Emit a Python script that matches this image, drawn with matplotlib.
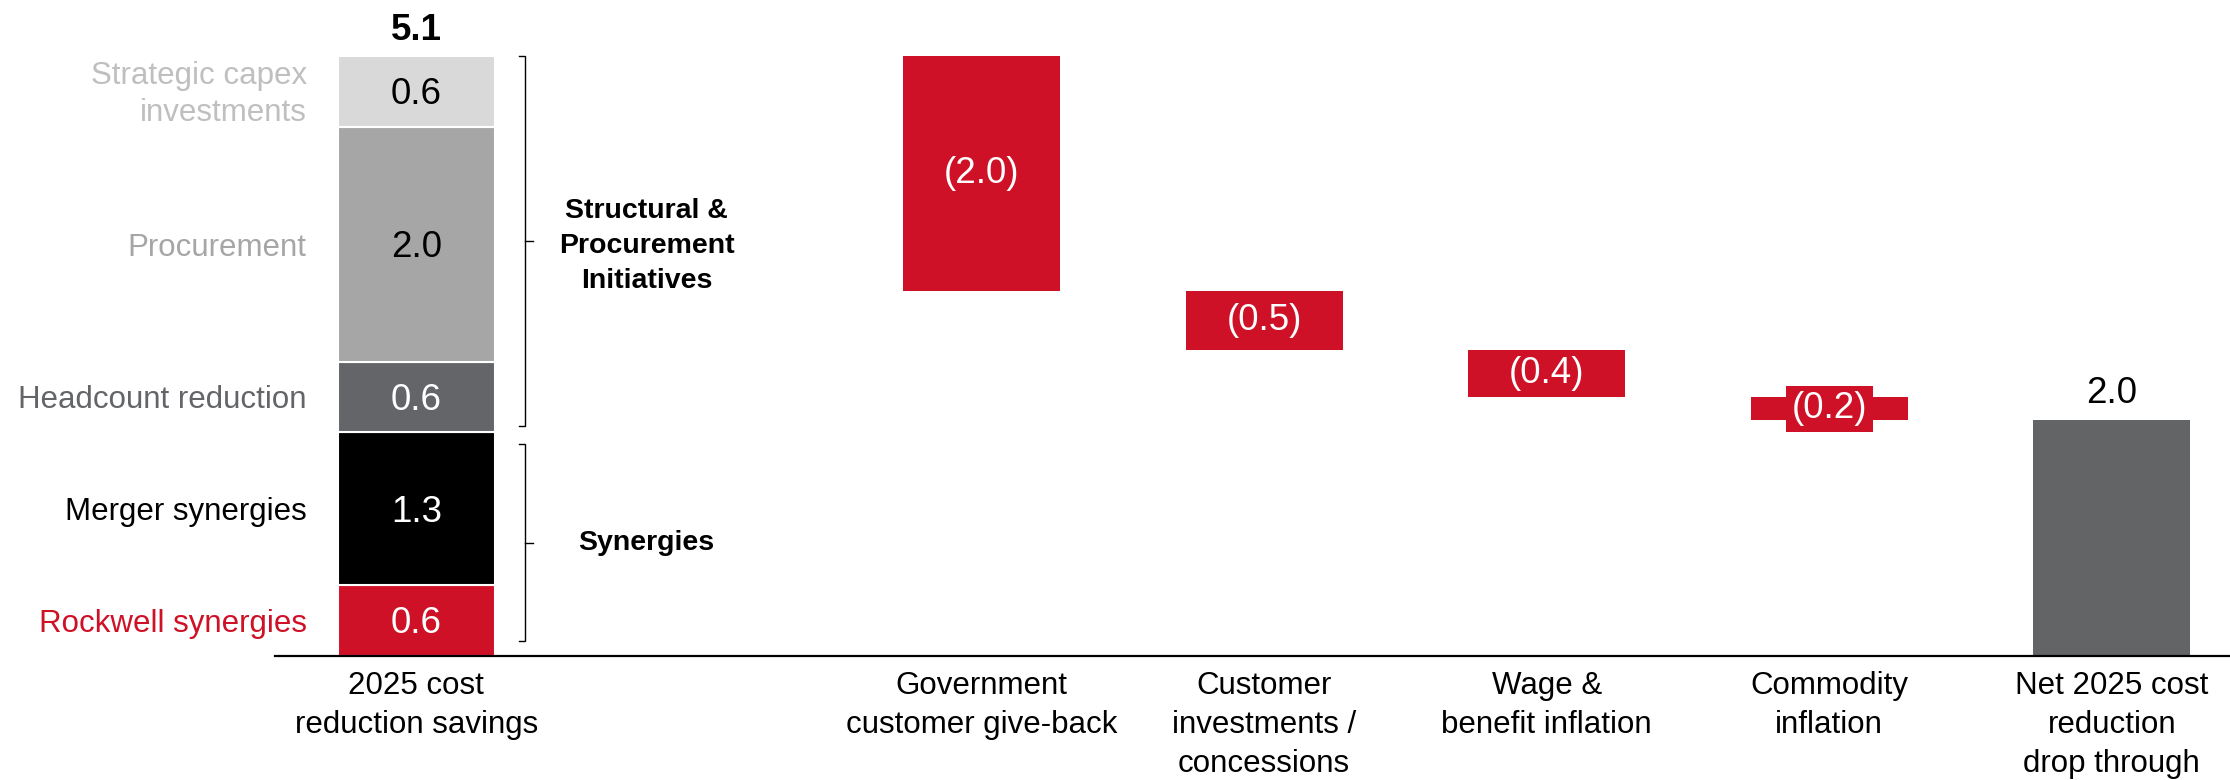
import matplotlib
matplotlib.use("Agg")
import matplotlib.pyplot as plt

plt.rcParams['font.family'] = ['Liberation Sans', 'DejaVu Sans']

# Stacked savings, bottom to top
seg_names = ["Rockwell synergies", "Merger synergies", "Headcount reduction",
             "Procurement", "Strategic capex\ninvestments"]
seg_values = [0.6, 1.3, 0.6, 2.0, 0.6]
seg_colors = ["#CE1126", "#000000", "#636569", "#A6A6A6", "#D9D9D9"]
seg_label_colors = ["#CE1126", "#000000", "#636569", "#A6A6A6", "#BFBFBF"]
seg_value_colors = ["white", "white", "white", "black", "black"]

# Bracketed groups: (label, first segment index, last segment index)
groups = [("Synergies", 0, 1), ("Structural &\nProcurement\nInitiatives", 2, 4)]

# Waterfall steps
step_names = ["Government\ncustomer give-back", "Customer\ninvestments /\nconcessions",
              "Wage &\nbenefit inflation", "Commodity\ninflation"]
step_values = [-2.0, -0.5, -0.4, -0.2]

net_name = "Net 2025 cost\nreduction\ndrop through"
net_value = 2.0
total_name = "2025 cost\nreduction savings"
total_value = 5.1

RED = "#CE1126"
NET_GREY = "#636466"
FS = 22.5      # category and segment names
VFS = 26.5     # value labels
W = 0.556
DY = -0.03     # nudge stacked value labels to optical centre

fig = plt.figure(figsize=(22.3, 7.8), dpi=100)
ax = fig.add_axes([275 / 2230, 1 - 655.6 / 780, 1 - 275 / 2230, (655.6 - 56) / 780])

# Stacked first bar
x0 = 0
bottom = 0.0
seg_bounds = []
for name, v, c, lc, vc in zip(seg_names, seg_values, seg_colors, seg_label_colors, seg_value_colors):
    ax.bar(x0, v, W, bottom=bottom, color=c, edgecolor="white", linewidth=1.5)
    mid = bottom + v / 2
    ax.text(x0, mid + DY, f"{v:.1f}", ha="center", va="center", fontsize=VFS, color=vc)
    ax.text(x0 - W / 2 - 0.11, mid - 0.03, name, ha="right", va="center",
            fontsize=FS, color=lc, linespacing=1.3)
    seg_bounds.append((bottom, bottom + v))
    bottom += v
ax.text(x0, total_value + 0.065, f"{total_value:.1f}", ha="center", va="bottom",
        fontsize=VFS, fontweight="bold", color="black")

# Brackets with group labels
bx = 0.385
for label, i0, i1 in groups:
    lo = seg_bounds[i0][0] + (0.12 if i0 == 0 else 0.05)
    hi = seg_bounds[i1][1] - (0.0 if i1 == len(seg_values) - 1 else 0.1)
    mid = (lo + hi) / 2
    ax.plot([bx - 0.02, bx, bx, bx - 0.02], [hi, hi, lo, lo], color="black", lw=1.0,
            solid_joinstyle="miter", clip_on=False)
    ax.plot([bx, bx + 0.028], [mid, mid], color="black", lw=1.0, clip_on=False)
    ty = mid - (0.04 if "\n" in label else 0.0)
    ax.text(0.815, ty, label, ha="center", va="center", fontsize=20.5,
            fontweight="bold", linespacing=1.45)

# Waterfall steps; thin bars get a backing box wider than the bar is tall
xs = [2, 3, 4, 5]
level = total_value
for x, v in zip(xs, step_values):
    level = level + v
    ax.bar(x, -v, W, bottom=level, color=RED, linewidth=0)
    pad = 0.15 if abs(v) < 0.3 else 0.04
    ax.text(x, level - v / 2, f"({abs(v):.1f})", ha="center", va="center",
            fontsize=VFS, color="white",
            bbox=dict(boxstyle=f"square,pad={pad}", fc=RED, ec="none"))

# Net result
xn = 6
ax.bar(xn, net_value, W, color=NET_GREY, linewidth=0)
ax.text(xn, net_value + 0.08, f"{net_value:.1f}", ha="center", va="bottom",
        fontsize=VFS, color="black")

ax.set_xlim(-0.5, 6.418)
ax.set_ylim(0, total_value)
ax.set_xticks([0] + xs + [xn])
ax.set_xticklabels([total_name] + step_names + [net_name], fontsize=FS, linespacing=1.4)
ax.tick_params(axis="x", length=0, pad=11)
ax.set_yticks([])
for s in ["top", "right", "left"]:
    ax.spines[s].set_visible(False)
ax.spines["bottom"].set_linewidth(1.6)
ax.spines["bottom"].set_color("black")

fig.savefig("out.png", dpi=100)
